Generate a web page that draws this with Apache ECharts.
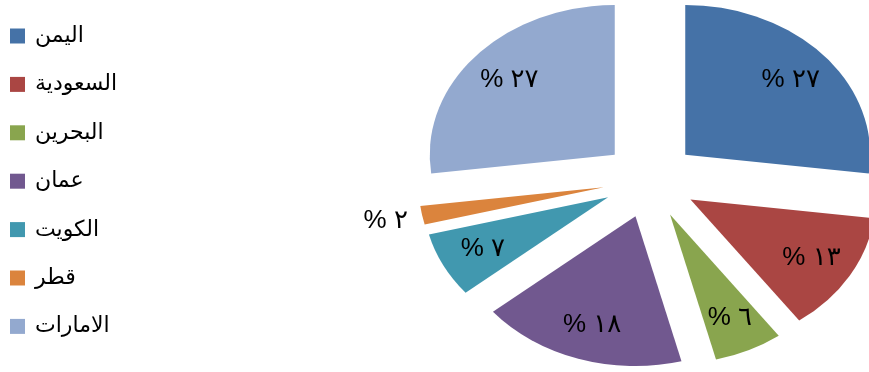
<!DOCTYPE html>
<html>
<head>
<meta charset="utf-8">
<script src="https://cdn.jsdelivr.net/npm/echarts@6/dist/echarts.min.js"></script>
<style>
  html, body { margin: 0; padding: 0; background: #ffffff; }
  #chart { width: 869px; height: 372px; }
</style>
</head>
<body>
<div id="chart"></div>
<script>
// Shares by country (percent), clockwise from 12 o'clock
const countries = ['اليمن', 'السعودية', 'البحرين', 'عمان', 'الكويت', 'قطر', 'الامارات'];
const shares = [27, 13, 6, 18, 7, 2, 27];
const sliceColors = ['#4572A7', '#AA4643', '#89A54E', '#71588F', '#4198AF', '#DB843D', '#93A9CF'];

// Pie geometry: a flattened (elliptical) exploded pie
const CX = 650, CY = 180;      // pie centre
const R = 185;                 // horizontal radius
const FLAT = 0.81;             // vertical squash factor
const EXPLODE = 47;            // distance each slice is pulled out
const LABEL_IN = 0.76, LABEL_OUT = 1.2;

const toArabicDigits = n => String(n).replace(/[0-9]/g, d => String.fromCharCode(0x0660 + Number(d)));
const total = shares.reduce((a, b) => a + b, 0);

function makeRenderer(idx) {
  return function (params, api) {
    const v = api.value(0);
    const before = shares.slice(0, idx).reduce((a, b) => a + b, 0);
    const a0 = before / total * Math.PI * 2;
    const a1 = (before + v) / total * Math.PI * 2;
    const mid = (a0 + a1) / 2;
    const sx = Math.sin(mid), sy = -Math.cos(mid);
    const ox = CX + EXPLODE * sx;
    const oy = CY + EXPLODE * sy;
    // apex after squashing
    const ax = ox, ay = CY + (oy - CY) * FLAT;
    const t = v < 5 ? LABEL_OUT : LABEL_IN;
    const lx = ax + t * R * sx;
    const ly = ay + t * R * sy * FLAT;
    return {
      type: 'group',
      children: [
        {
          type: 'sector',
          shape: {
            cx: ox, cy: oy, r: R, r0: 0,
            startAngle: a0 - Math.PI / 2,
            endAngle: a1 - Math.PI / 2,
            clockwise: true
          },
          originX: CX, originY: CY, scaleY: FLAT,
          style: { fill: api.visual('color') }
        },
        {
          type: 'text',
          x: lx, y: ly,
          style: {
            text: '% ' + toArabicDigits(v),
            fill: '#000000',
            font: '26px "Liberation Sans", Arial, "DejaVu Sans", sans-serif',
            align: 'center',
            verticalAlign: 'middle'
          }
        }
      ]
    };
  };
}

const chart = echarts.init(document.getElementById('chart'), null, { renderer: 'canvas' });
chart.setOption({
  animation: false,
  backgroundColor: '#ffffff',
  legend: {
    orient: 'vertical',
    left: 10,
    top: 25,
    padding: 0,
    icon: 'rect',
    itemWidth: 15,
    itemHeight: 15,
    itemGap: 26.4,
    selectedMode: false,
    data: countries,
    textStyle: {
      fontSize: 22,
      lineHeight: 18,
      color: '#000000',
      fontFamily: '"Liberation Sans", Arial, "DejaVu Sans", sans-serif',
      padding: [0, 0, 0, 5]
    }
  },
  series: countries.map((name, i) => ({
    type: 'custom',
    name: name,
    coordinateSystem: 'none',
    itemStyle: { color: sliceColors[i] },
    renderItem: makeRenderer(i),
    data: [shares[i]]
  }))
});
</script>
</body>
</html>
